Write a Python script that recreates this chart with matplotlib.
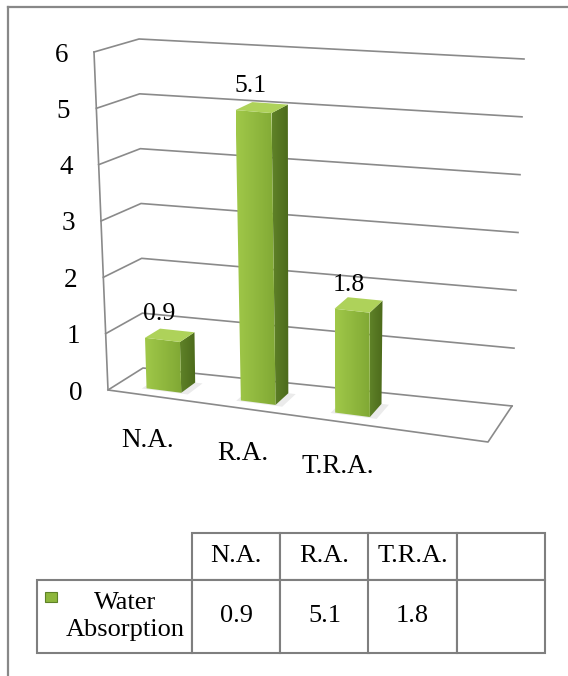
import numpy as np
import matplotlib

matplotlib.use("Agg")
import matplotlib.pyplot as plt  # noqa: E402
from matplotlib.colors import LinearSegmentedColormap  # noqa: E402
from matplotlib.patches import Polygon, Rectangle  # noqa: E402
from matplotlib.table import Table  # noqa: E402

categories = ["N.A.", "R.A.", "T.R.A.", ""]
water_absorption = [0.9, 5.1, 1.8, None]
series_name = "Water\nAbsorption"
y_ticks = [0, 1, 2, 3, 4, 5, 6]

W, H = 568, 676
GRID = "#8A8A8A"
FRAME = "#888888"
FONT = "Liberation Serif"
FRONT_L, FRONT_R = "#A0C849", "#80A834"
SIDE_L, SIDE_R = "#5F8228", "#4C6A1B"
TOP = "#AED25A"

# screen position of the plot box corners, keyed by (across, up, depth)
BOX = {
    (0, 0, 0): (108, 390), (1, 0, 0): (488, 442),
    (0, 1, 0): (94, 52), (1, 1, 0): (490, 86),
    (0, 0, 1): (143, 368), (1, 0, 1): (512, 406),
    (0, 1, 1): (139, 39), (1, 1, 1): (524, 59),
}
BAR_HALF = 0.046
BAR_W0, BAR_W1 = 0.25, 0.67


def project(u, v, w):
    x = y = 0.0
    for (a, b, c), (px, py) in BOX.items():
        k = (u if a else 1 - u) * (v if b else 1 - v) * (w if c else 1 - w)
        x += k * px
        y += k * py
    return x, y


def shaded_poly(ax, pts, c0, c1, z):
    patch = Polygon(pts, closed=True, facecolor="none", edgecolor="none", zorder=z)
    ax.add_patch(patch)
    xs = [p[0] for p in pts]
    ys = [p[1] for p in pts]
    cmap = LinearSegmentedColormap.from_list("face", [c0, c1])
    im = ax.imshow(np.linspace(0, 1, 64).reshape(1, -1), cmap=cmap,
                   extent=(min(xs), max(xs), max(ys), min(ys)),
                   aspect="auto", interpolation="bilinear", zorder=z)
    im.set_clip_path(patch)


fig = plt.figure(figsize=(W / 100, H / 100), dpi=100)
ax = fig.add_axes([0, 0, 1, 1])
ax.set_axis_off()

y_max = y_ticks[-1]
n = len(categories)

# walls and floor
for t in y_ticks:
    v = t / y_max
    p0, p1, p2 = project(0, v, 0), project(0, v, 1), project(1, v, 1)
    ax.plot([p0[0], p1[0], p2[0]], [p0[1], p1[1], p2[1]], color=GRID, lw=1.2, zorder=1)
    ax.text(p0[0] - 26, p0[1] + 3, str(t), ha="right", va="center",
            fontsize=19.5, family=FONT)
edge = [project(0, 1, 0), project(0, 0, 0), project(1, 0, 0), project(1, 0, 1)]
ax.plot([p[0] for p in edge], [p[1] for p in edge], color=GRID, lw=1.2, zorder=1)

# columns
for i, (cat, val) in enumerate(zip(categories, water_absorption)):
    uc = (i + 0.5) / n
    bx, by = project(uc, 0, 0)
    ax.text(bx - 8, by + 44, cat, ha="center", va="center", fontsize=19.5, family=FONT)
    if val is None:
        continue
    v = val / y_max
    u0, u1 = uc - BAR_HALF, uc + BAR_HALF
    w0, w1 = BAR_W0, BAR_W1

    base = [project(u0 - 0.01, 0, w0 - 0.03), project(u1 + 0.02, 0, w0 - 0.03),
            project(u1 + 0.02, 0, w1), project(u0 - 0.01, 0, w1)]
    ax.add_patch(Polygon(base, closed=True, facecolor="#000000", alpha=0.08,
                         edgecolor="none", zorder=2))

    side = [project(u1, 0, w0), project(u1, 0, w1), project(u1, v, w1), project(u1, v, w0)]
    front = [project(u0, 0, w0), project(u1, 0, w0), project(u1, v, w0), project(u0, v, w0)]
    top = [project(u0, v, w0), project(u1, v, w0), project(u1, v, w1), project(u0, v, w1)]
    shaded_poly(ax, side, SIDE_L, SIDE_R, 3)
    shaded_poly(ax, front, FRONT_L, FRONT_R, 3)
    ax.add_patch(Polygon(top, closed=True, facecolor=TOP, edgecolor="none", zorder=3))

    tx, ty = project(uc, v, w0)
    ax.text(tx - 3, ty - 20, f"{val}", ha="center", va="baseline",
            fontsize=18.5, family=FONT, zorder=5)

# data table underneath the chart
left, right, top_y, mid_y, bot_y = 37, 545, 533, 580, 653
label_w = 155
col_w = (right - left - label_w) / n
tbl = Table(ax, bbox=[left / W, 1 - bot_y / H, (right - left) / W, (bot_y - top_y) / H])
for j, cat in enumerate(categories):
    tbl.add_cell(0, j + 1, col_w, mid_y - top_y, text=cat, loc="center")
lab = tbl.add_cell(1, 0, label_w, bot_y - mid_y, text=series_name, loc="right")
lab.PAD = 0.05
lab.get_text().set_multialignment("center")
lab.get_text().set_linespacing(1.25)
for j, val in enumerate(water_absorption):
    tbl.add_cell(1, j + 1, col_w, bot_y - mid_y,
                 text="" if val is None else f"{val}", loc="center")
tbl.auto_set_font_size(False)
tbl.set_fontsize(19)
for cell in tbl.get_celld().values():
    cell.set_edgecolor("#7F7F7F")
    cell.set_linewidth(1.5)
    cell.get_text().set_family(FONT)
ax.add_table(tbl)

# legend key in the row header
ax.add_patch(Rectangle((45, 592), 12, 10, facecolor="#8DB63C", edgecolor="#5E8127",
                       lw=0.8, zorder=6))

# chart area frame
ax.plot([8, W], [7, 7], color=FRAME, lw=1.6, zorder=6)
ax.plot([8, 8], [7, H], color=FRAME, lw=1.6, zorder=6)

ax.set_xlim(0, W)
ax.set_ylim(H, 0)
fig.savefig("out.png", dpi=100)
plt.close(fig)
